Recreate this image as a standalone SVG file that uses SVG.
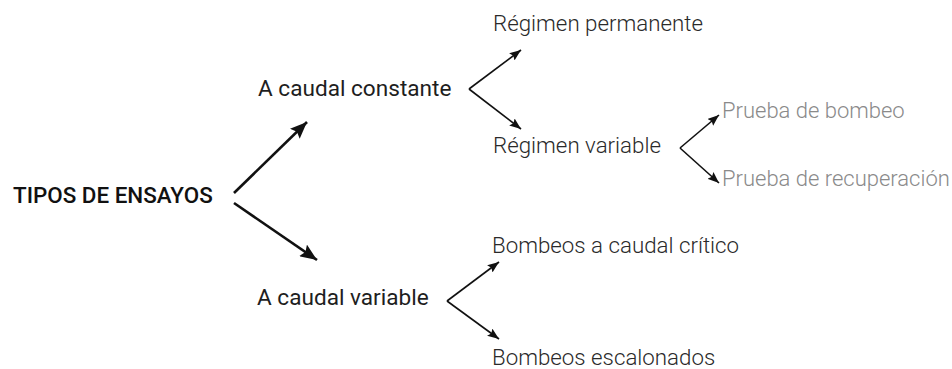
<svg xmlns="http://www.w3.org/2000/svg" width="952" height="369" viewBox="0 0 952 369">
<defs>
<marker id="big" markerUnits="userSpaceOnUse" markerWidth="18" markerHeight="14" viewBox="0 0 18 14" refX="17" refY="7" orient="auto">
<path d="M0,0 L17,7 L0,14 L3,7 Z" fill="#111"/>
</marker>
<marker id="small" markerUnits="userSpaceOnUse" markerWidth="12" markerHeight="9" viewBox="0 0 12 9" refX="11.5" refY="4.5" orient="auto">
<path d="M0,0 L11.5,4.5 L0,9 L2,4.5 Z" fill="#111"/>
</marker>
</defs>
<style>
text { font-family: Roboto, "Liberation Sans", sans-serif; }
.root { font-size: 22.4px; font-weight: 500; fill: #111; }
.l1 { font-size: 22.6px; font-weight: 400; fill: #1e1e1e; }
.l2 { font-size: 22.3px; font-weight: 300; fill: #2a2a2a; }
.l3 { font-size: 22px; font-weight: 300; fill: #8a8a8a; }
.big { stroke: #111; stroke-width: 2.6; fill: none; marker-end: url(#big); }
.small { stroke: #111; stroke-width: 1.6; fill: none; marker-end: url(#small); }
</style>
<rect width="952" height="369" fill="#fff"/>
<g id="connectors">
<line class="big" x1="234" y1="193" x2="307" y2="122"/>
<line class="big" x1="234" y1="203" x2="317" y2="260"/>
<polyline class="small" points="469,89 521,50"/>
<polyline class="small" points="469,89 521,129"/>
<polyline class="small" points="680,148 719,115"/>
<polyline class="small" points="680,148 719,183"/>
<polyline class="small" points="447,301 499,262"/>
<polyline class="small" points="447,301 499,339"/>
</g>
<g id="n-tipos"><text class="root" x="13" y="203">TIPOS DE ENSAYOS</text></g>
<g id="n-constante"><text class="l1" x="258" y="96">A caudal constante</text></g>
<g id="n-variable"><text class="l1" x="257" y="305">A caudal variable</text></g>
<g id="n-permanente"><text class="l2" x="493" y="31">Régimen permanente</text></g>
<g id="n-regvariable"><text class="l2" x="493" y="153">Régimen variable</text></g>
<g id="n-bombeo"><text class="l3" x="722" y="118">Prueba de bombeo</text></g>
<g id="n-recuperacion"><text class="l3" x="722" y="186">Prueba de recuperación</text></g>
<g id="n-critico"><text class="l2" x="492" y="253">Bombeos a caudal crítico</text></g>
<g id="n-escalonados"><text class="l2" x="492" y="365">Bombeos escalonados</text></g>
</svg>
